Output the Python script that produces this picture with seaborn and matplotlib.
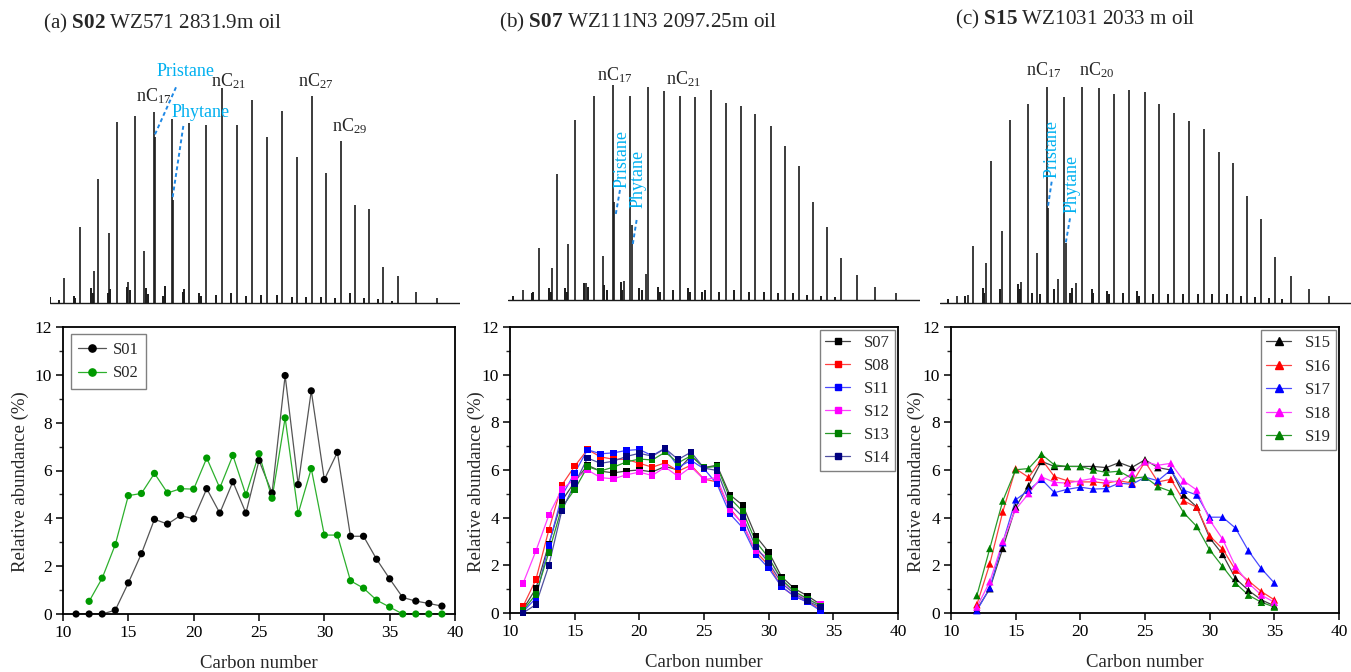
import numpy as np
import pandas as pd
import matplotlib
matplotlib.use("Agg")
import matplotlib.pyplot as plt
from matplotlib.lines import Line2D
import seaborn as sns

sns.set_theme(style="ticks")
plt.rcParams["font.family"] = ["Liberation Serif", "DejaVu Serif"]
plt.rcParams["mathtext.fontset"] = "custom"
plt.rcParams["mathtext.rm"] = "Liberation Serif"
plt.rcParams["mathtext.it"] = "Liberation Serif:italic"
plt.rcParams["mathtext.bf"] = "Liberation Serif:bold"

# ---------------- distribution data ----------------
carbon_a = list(range(11, 40))
S01 = [0, 0, 0, 0.16, 1.3, 2.52, 3.96, 3.76, 4.12, 3.98, 5.24, 4.22, 5.53, 4.22, 6.42,
       5.06, 9.97, 5.41, 9.33, 5.62, 6.76, 3.25, 3.25, 2.29, 1.47, 0.69, 0.54, 0.44, 0.33]
carbon_a2 = list(range(12, 40))
S02 = [0.53, 1.5, 2.9, 4.95, 5.04, 5.88, 5.06, 5.24, 5.22, 6.52, 5.27, 6.63, 4.98, 6.7,
       4.84, 8.2, 4.2, 6.08, 3.3, 3.3, 1.39, 1.08, 0.58, 0.29, 0, 0, 0, 0]

carbon_b = list(range(11, 35))
S07 = [0.15, 1.02, 2.9, 4.7, 5.5, 6.2, 5.95, 5.88, 5.96, 6.0, 5.92, 6.15, 6.0, 6.6,
       6.1, 6.2, 4.96, 4.52, 3.23, 2.56, 1.52, 1.02, 0.72, 0.36]
S08 = [0.27, 1.4, 3.48, 5.36, 6.16, 6.86, 6.55, 6.45, 6.45, 6.28, 6.12, 6.3, 5.95, 6.2,
       5.62, 5.5, 4.4, 3.72, 2.58, 2.0, 1.1, 0.7, 0.47, 0.16]
S11 = [0.05, 0.62, 2.84, 4.9, 5.88, 6.85, 6.68, 6.72, 6.82, 6.86, 6.6, 6.92, 6.12, 6.4,
       6.05, 5.42, 4.16, 3.57, 2.46, 1.88, 1.1, 0.7, 0.45, 0.1]
S12 = [1.23, 2.6, 4.1, 5.18, 5.62, 6.0, 5.68, 5.63, 5.8, 5.91, 5.77, 6.12, 5.73, 6.13,
       5.6, 5.68, 4.32, 3.76, 2.62, 2.3, 1.36, 0.86, 0.55, 0.35]
S13 = [0.1, 0.78, 2.54, 4.42, 5.18, 6.14, 5.96, 6.12, 6.34, 6.46, 6.42, 6.75, 6.3, 6.6,
       6.1, 6.15, 4.82, 4.26, 3.0, 2.32, 1.4, 0.9, 0.6, 0.3]
S14 = [0.0, 0.35, 1.99, 4.28, 5.43, 6.5, 6.28, 6.37, 6.57, 6.7, 6.58, 6.9, 6.44, 6.75,
       6.08, 5.98, 4.56, 4.04, 2.78, 2.11, 1.25, 0.8, 0.5, 0.25]

carbon_c = list(range(12, 36))
S15 = [0.15, 1.02, 2.71, 4.45, 5.34, 6.36, 6.15, 6.15, 6.15, 6.15, 6.1, 6.31, 6.11, 6.43,
       6.1, 6.0, 4.95, 4.45, 3.15, 2.46, 1.45, 0.95, 0.55, 0.3]
S16 = [0.35, 2.06, 4.24, 6.05, 5.69, 6.45, 5.72, 5.55, 5.5, 5.5, 5.45, 5.55, 5.45, 6.35,
       5.5, 5.61, 4.7, 4.44, 3.24, 2.69, 1.8, 1.35, 0.9, 0.55]
S17 = [0.1, 1.05, 2.95, 4.75, 5.15, 5.61, 5.05, 5.19, 5.28, 5.2, 5.22, 5.45, 5.4, 5.7,
       5.55, 6.0, 5.15, 4.95, 4.02, 4.02, 3.56, 2.61, 1.86, 1.26]
S18 = [0.25, 1.31, 3.0, 4.35, 5.01, 5.71, 5.48, 5.45, 5.55, 5.65, 5.55, 5.5, 5.85, 6.35,
       6.2, 6.28, 5.54, 5.16, 3.9, 3.1, 1.95, 1.25, 0.75, 0.45]
S19 = [0.73, 2.71, 4.7, 6.01, 6.06, 6.66, 6.21, 6.15, 6.15, 6.0, 5.9, 5.95, 5.65, 5.71,
       5.3, 5.1, 4.2, 3.63, 2.65, 1.95, 1.25, 0.75, 0.45, 0.25]

# ---------------- chromatogram data (retention units, intensity) ----------------
rt_a = [19.2, 24.0, 28.1, 29.3, 32.8, 35.0, 38.5, 40.5, 43.2, 46.2, 46.6, 51.6, 52.0, 56.8,
        61.7, 66.5, 71.1, 75.5, 80.0, 84.6, 89.0, 93.5, 97.8, 102.2, 106.4, 110.6, 114.8,
        119.4, 124.8, 131.0]
ht_a = [7.5, 22.8, 9.8, 37.3, 21.2, 54.4, 6.5, 56.3, 15.8, 57.4, 50.0, 55.2, 31.0, 54.0,
        53.6, 64.7, 53.6, 61.0, 49.8, 57.6, 44.0, 62.1, 39.0, 48.6, 29.4, 28.4, 10.8,
        8.2, 3.5, 1.7]
rt_a_minor = [15.0, 17.8, 22.2, 22.6, 27.4, 27.8, 32.5, 33.1, 38.0, 38.9, 43.7, 44.3, 48.9,
              49.6, 54.8, 55.3, 59.8, 60.4, 64.9, 69.3, 73.9, 78.3, 83.1, 87.6, 91.9, 96.3,
              100.6, 104.9, 109.1, 113.3, 117.6]
ht_a_minor = [2.0, 1.0, 2.2, 1.6, 4.5, 3.0, 3.2, 4.2, 5.0, 4.0, 4.5, 2.8, 2.2, 5.2, 3.5,
              4.2, 3.0, 2.2, 2.5, 3.0, 2.2, 2.5, 2.5, 2.0, 2.0, 2.0, 1.6, 3.0, 1.5, 1.2, 0.8]

rt_b = [18.8, 23.7, 27.7, 29.0, 32.3, 34.6, 37.8, 40.2, 42.9, 45.8, 46.2, 49.1, 51.1, 51.6,
        55.8, 56.3, 61.2, 65.9, 70.6, 75.2, 79.7, 84.2, 88.6, 93.2, 97.5, 101.8, 106.0,
        110.1, 114.3, 119.0, 124.5, 130.8]
ht_b = [3.0, 15.6, 9.7, 37.9, 16.9, 53.9, 5.0, 61.3, 13.2, 64.5, 29.3, 5.7, 61.3, 22.4,
        7.7, 64.0, 62.8, 61.2, 61.0, 63.1, 59.1, 58.2, 55.7, 52.1, 46.2, 40.3, 29.4,
        21.8, 12.7, 7.4, 3.9, 2.0]
rt_b_minor = [16.0, 21.5, 22.0, 26.7, 27.2, 31.5, 32.0, 37.2, 38.3, 43.3, 44.0, 48.2, 48.7,
              53.6, 54.5, 59.3, 60.0, 63.8, 68.5, 69.0, 72.5, 73.5, 77.8, 82.3, 86.8, 91.2,
              95.5, 99.8, 104.0, 108.3, 112.5]
ht_b_minor = [1.2, 2.0, 2.5, 3.5, 2.5, 3.5, 2.5, 5.0, 4.0, 4.5, 3.0, 5.5, 3.0, 3.5, 3.0,
              4.0, 2.5, 3.0, 3.5, 2.5, 2.5, 3.0, 2.5, 3.0, 2.5, 2.5, 2.0, 2.0, 1.5, 1.2, 1.0]

rt_c = [17.0, 20.5, 21.9, 25.9, 27.2, 30.6, 32.9, 36.2, 38.5, 41.1, 44.0, 44.3, 47.4, 49.3,
        49.7, 52.7, 54.5, 59.6, 64.3, 68.8, 73.4, 77.8, 82.3, 86.8, 91.2, 95.6, 100.0,
        104.2, 108.3, 112.6, 117.2, 122.6, 128.8]
ht_c = [2.0, 2.3, 17.0, 11.8, 42.5, 21.6, 54.8, 6.3, 59.5, 14.8, 64.6, 28.3, 7.2, 61.7,
        17.8, 5.8, 64.8, 64.5, 62.6, 63.8, 63.1, 59.6, 57.0, 54.4, 52.2, 45.1, 41.8,
        32.0, 25.0, 13.8, 8.0, 4.1, 2.1]
rt_c_minor = [14.5, 19.5, 24.8, 25.3, 30.0, 35.5, 36.0, 39.5, 42.0, 46.2, 51.0, 51.6, 57.5,
              58.0, 62.2, 62.7, 66.8, 71.2, 71.6, 75.9, 80.5, 84.8, 89.4, 93.7, 98.0, 102.3,
              106.6, 110.7, 114.6]
ht_c_minor = [1.0, 2.0, 4.5, 3.0, 4.0, 5.5, 4.0, 3.0, 2.5, 4.0, 3.0, 4.5, 4.0, 3.0, 3.5, 2.5,
              3.0, 3.5, 2.0, 2.5, 2.5, 2.5, 2.5, 2.5, 2.5, 2.0, 1.8, 1.5, 1.0]

titles = [r"(a) $\mathbf{S02}$ WZ571 2831.9m oil",
          r"(b) $\mathbf{S07}$ WZ111N3 2097.25m oil",
          r"(c) $\mathbf{S15}$ WZ1031 2033 m oil"]

W, H = 1351, 672
fig = plt.figure(figsize=(W / 100, H / 100), dpi=100)

def fx(px):
    return px / W

def fy(px):
    return 1 - px / H

# ---------------- chromatograms ----------------
PX_PER_UNIT = 10 / 3.0
chrom_specs = [
    (50.0, 303.3, (15.0, 138.0), rt_a, ht_a, rt_a_minor, ht_a_minor),
    (508.3, 300.0, (14.5, 138.0), rt_b, ht_b, rt_b_minor, ht_b_minor),
    (940.0, 302.7, (12.0, 135.3), rt_c, ht_c, rt_c_minor, ht_c_minor),
]
YLO, YHI = -2.0, 75.0
chrom_axes = []
for left, base, xl, rt, ht, rtm, htm in chrom_specs:
    width = (xl[1] - xl[0]) * PX_PER_UNIT
    height = (YHI - YLO) * PX_PER_UNIT
    bottom_px = base + (-YLO) * PX_PER_UNIT
    ax = fig.add_axes([fx(left), fy(bottom_px), fx(width), height / H])
    ax.set_xlim(*xl)
    ax.set_ylim(YLO, YHI)
    ax.axis("off")
    ax.plot([xl[0], xl[1]], [0, 0], color="#1a1a1a", lw=1.0)
    ax.vlines(rt, 0, ht, color="#1a1a1a", lw=1.2)
    ax.vlines(rtm, 0, htm, color="#1a1a1a", lw=1.4)
    chrom_axes.append(ax)

blue_txt = "#00B0F0"
blue_ln = "#1E88E5"
fs_lab = 13

axA, axB, axC = chrom_axes
axA.text(46.2, 62.0, r"nC$_{\mathrm{17}}$", ha="center", va="center", fontsize=fs_lab)
axA.text(68.5, 66.5, r"nC$_{\mathrm{21}}$", ha="center", va="center", fontsize=fs_lab)
axA.text(94.7, 66.5, r"nC$_{\mathrm{27}}$", ha="center", va="center", fontsize=fs_lab)
axA.text(105.0, 53.0, r"nC$_{\mathrm{29}}$", ha="center", va="center", fontsize=fs_lab)
axA.text(47.0, 69.5, "Pristane", ha="left", va="center", fontsize=fs_lab, color=blue_txt)
axA.text(51.5, 57.2, "Phytane", ha="left", va="center", fontsize=fs_lab, color=blue_txt)
axA.plot([52.8, 46.2], [64.8, 50.0], ls=(0, (2, 1.5)), color=blue_ln, lw=1.4)
axA.plot([55.0, 51.7], [53.2, 31.2], ls=(0, (2, 1.5)), color=blue_ln, lw=1.4)

axB.text(46.3, 67.5, r"nC$_{\mathrm{17}}$", ha="center", va="center", fontsize=fs_lab)
axB.text(67.2, 66.3, r"nC$_{\mathrm{21}}$", ha="center", va="center", fontsize=fs_lab)
axB.text(48.5, 42.2, "Pristane", ha="center", va="center", rotation=90, fontsize=fs_lab, color=blue_txt)
axB.text(53.5, 36.2, "Phytane", ha="center", va="center", rotation=90, fontsize=fs_lab, color=blue_txt)
axB.plot([48.0, 46.7], [33.0, 25.5], ls=(0, (2, 1.5)), color=blue_ln, lw=1.4)
axB.plot([53.0, 51.8], [24.0, 16.5], ls=(0, (2, 1.5)), color=blue_ln, lw=1.4)

axC.text(43.0, 69.8, r"nC$_{\mathrm{17}}$", ha="center", va="center", fontsize=fs_lab)
axC.text(59.0, 69.8, r"nC$_{\mathrm{20}}$", ha="center", va="center", fontsize=fs_lab)
axC.text(45.5, 46.0, "Pristane", ha="center", va="center", rotation=90, fontsize=fs_lab, color=blue_txt)
axC.text(51.5, 35.7, "Phytane", ha="center", va="center", rotation=90, fontsize=fs_lab, color=blue_txt)
axC.plot([45.5, 44.3], [36.3, 28.3], ls=(0, (2, 1.5)), color=blue_ln, lw=1.4)
axC.plot([51.0, 49.7], [25.3, 17.8], ls=(0, (2, 1.5)), color=blue_ln, lw=1.4)

title_pos = [(43, 23), (499, 22), (955, 19)]
for (tx, ty), t in zip(title_pos, titles):
    fig.text(fx(tx), fy(ty), t, ha="left", va="center", fontsize=15.2)

# ---------------- distribution panels ----------------
bottom_specs = [
    (63, 455, 327, 614, 20.3),
    (510, 898, 327, 613, 476.5),
    (951, 1339, 327, 613, 916.5),
]

panels = [
    dict(series=[("S01", carbon_a, S01, "#000000", "#555555"),
                 ("S02", carbon_a2, S02, "#009A00", "#2DB02D")],
         marker="o", ms=5.2, legend_loc="upper left", legend_fs=12,
         hl=1.7, htp=0.4, ls=0.45, bp=0.45, bap=0.45),
    dict(series=[("S07", carbon_b, S07, "#000000", "#444444"),
                 ("S08", carbon_b, S08, "#FF0000", "#FF4040"),
                 ("S11", carbon_b, S11, "#0000FF", "#4A4AFF"),
                 ("S12", carbon_b, S12, "#FF00FF", "#FF40FF"),
                 ("S13", carbon_b, S13, "#008000", "#2A9A2A"),
                 ("S14", carbon_b, S14, "#000080", "#5050A0")],
         marker="s", ms=4.6, legend_loc="upper right", legend_fs=12,
         hl=1.5, htp=0.8, ls=0.42, bp=0.3, bap=0.2),
    dict(series=[("S15", carbon_c, S15, "#000000", "#444444"),
                 ("S16", carbon_c, S16, "#FF0000", "#FF4040"),
                 ("S17", carbon_c, S17, "#0000FF", "#4A4AFF"),
                 ("S18", carbon_c, S18, "#FF00FF", "#FF40FF"),
                 ("S19", carbon_c, S19, "#008000", "#2A9A2A")],
         marker="^", ms=5.4, legend_loc="upper right", legend_fs=12,
         hl=1.5, htp=0.8, ls=0.45, bp=0.3, bap=0.2),
]

for (l, r, t, b, ylx), p in zip(bottom_specs, panels):
    ax = fig.add_axes([fx(l), fy(b), fx(r - l), (b - t) / H])
    frames = []
    for name, xs, ys, mc, lc in p["series"]:
        frames.append(pd.DataFrame({"carbon": xs, "abundance": ys, "sample": name}))
    df = pd.concat(frames, ignore_index=True)
    line_pal = {s[0]: s[4] for s in p["series"]}
    mark_pal = {s[0]: s[3] for s in p["series"]}
    sns.lineplot(data=df, x="carbon", y="abundance", hue="sample", palette=line_pal,
                 lw=0.9, legend=False, ax=ax, sort=True, zorder=2)
    sns.scatterplot(data=df, x="carbon", y="abundance", hue="sample", palette=mark_pal,
                    marker=p["marker"], s=p["ms"] ** 2, edgecolor="none", linewidth=0,
                    legend=False, ax=ax, zorder=3, clip_on=False)
    ax.set_xlim(10, 40)
    ax.set_ylim(0, 12)
    ax.set_xticks([10, 15, 20, 25, 30, 35, 40])
    ax.set_yticks([0, 2, 4, 6, 8, 10, 12])
    ax.set_yticks([1, 3, 5, 7, 9, 11], minor=True)
    ax.tick_params(axis="both", which="major", direction="out", length=5, width=1.1,
                   labelsize=12.5, color="black", labelcolor="black",
                   top=False, right=False, pad=3)
    ax.tick_params(axis="y", which="minor", direction="out", length=3, width=1.0,
                   left=True, right=False)
    for sp in ax.spines.values():
        sp.set_visible(True)
        sp.set_linewidth(1.3)
        sp.set_color("black")
    ax.set_facecolor("white")
    ax.set_xlabel("Carbon number", fontsize=13.5, labelpad=10)
    ax.set_ylabel("Relative abundance (%)", fontsize=13.5, va="center")
    ax.yaxis.set_label_coords((ylx - l) / (r - l), (b - 481.5) / (b - t))
    handles = [Line2D([0], [0], color=s[4], lw=0.9, marker=p["marker"], ms=p["ms"],
                      markerfacecolor=s[3], markeredgecolor=s[3]) for s in p["series"]]
    labels = [s[0] for s in p["series"]]
    leg = ax.legend(handles, labels, loc=p["legend_loc"], fontsize=p["legend_fs"],
                    frameon=True, fancybox=False, framealpha=1, edgecolor="#808080",
                    handlelength=p["hl"], handletextpad=p["htp"], labelspacing=p["ls"],
                    borderpad=p["bp"], borderaxespad=p["bap"])
    leg.get_frame().set_linewidth(1.0)

fig.savefig("out.png", dpi=100, facecolor="white")
